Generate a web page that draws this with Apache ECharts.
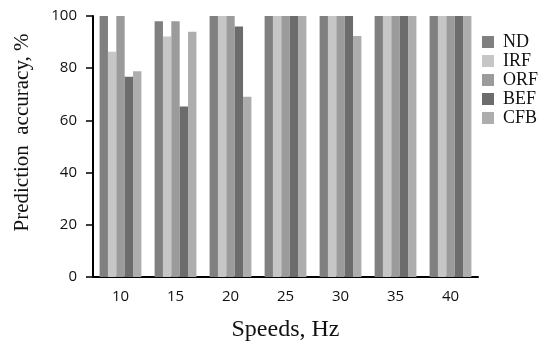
<!DOCTYPE html>
<html><head><meta charset="utf-8">
<script src="https://cdn.jsdelivr.net/npm/echarts@6/dist/echarts.min.js"></script>
<style>html,body{margin:0;padding:0;background:#fff}#c{width:545px;height:347px}</style>
</head><body><div id="c"></div>
<script>
const categories = ['10','15','20','25','30','35','40'];
const ND  = [100, 98, 100, 100, 100, 100, 100];
const IRF = [86.3, 92.1, 100, 100, 100, 100, 100];
const ORF = [100, 98, 100, 100, 100, 100, 100];
const BEF = [76.7, 65.3, 96, 100, 100, 100, 100];
const CFB = [78.8, 94, 69.1, 100, 92.3, 100, 100];
const yTicks = [0, 20, 40, 60, 80, 100];

const names = ['ND','IRF','ORF','BEF','CFB'];
const values = [ND, IRF, ORF, BEF, CFB];
const colors = ['#808080','#c6c6c6','#9b9b9b','#6c6c6c','#adadad'];

const chart = echarts.init(document.getElementById('c'), null, {renderer:'canvas'});
chart.setOption({
  animation: false,
  grid: {left: 93, right: 67, top: 16, bottom: 70},
  legend: {
    orient: 'vertical', left: 482, top: 33, padding: 0,
    itemWidth: 12, itemHeight: 12, itemGap: 1,
    icon: 'rect',
    textStyle: {fontFamily: 'Liberation Serif', fontSize: 18, color: '#111', padding: [0,0,0,4]},
    data: names
  },
  xAxis: {
    type: 'category', data: categories,
    name: 'Speeds, Hz', nameLocation: 'middle', nameGap: 41,
    nameTextStyle: {fontFamily: 'Liberation Serif', fontSize: 24, color: '#111'},
    axisLine: {lineStyle: {color: '#000', width: 2}},
    axisTick: {show: false},
    axisLabel: {fontFamily: 'Open Sans', fontSize: 15, color: '#111', margin: 12}
  },
  yAxis: {
    type: 'value', min: yTicks[0], max: yTicks[yTicks.length-1], interval: 20,
    name: 'Prediction  accuracy, %', nameLocation: 'middle', nameGap: 60,
    nameTextStyle: {fontFamily: 'Liberation Serif', fontSize: 21, color: '#111', padding: [0,0,0,28]},
    axisLine: {show: true, lineStyle: {color: '#000', width: 2}},
    axisTick: {show: true, length: 7, lineStyle: {color: '#000', width: 1.5}},
    splitLine: {show: false},
    axisLabel: {fontFamily: 'Open Sans', fontSize: 15, color: '#111', margin: 16}
  },
  series: names.map((n, i) => ({
    name: n, type: 'bar', data: values[i],
    barGap: '0%', barCategoryGap: '24%',
    itemStyle: {color: colors[i]}
  }))
});
</script></body></html>
